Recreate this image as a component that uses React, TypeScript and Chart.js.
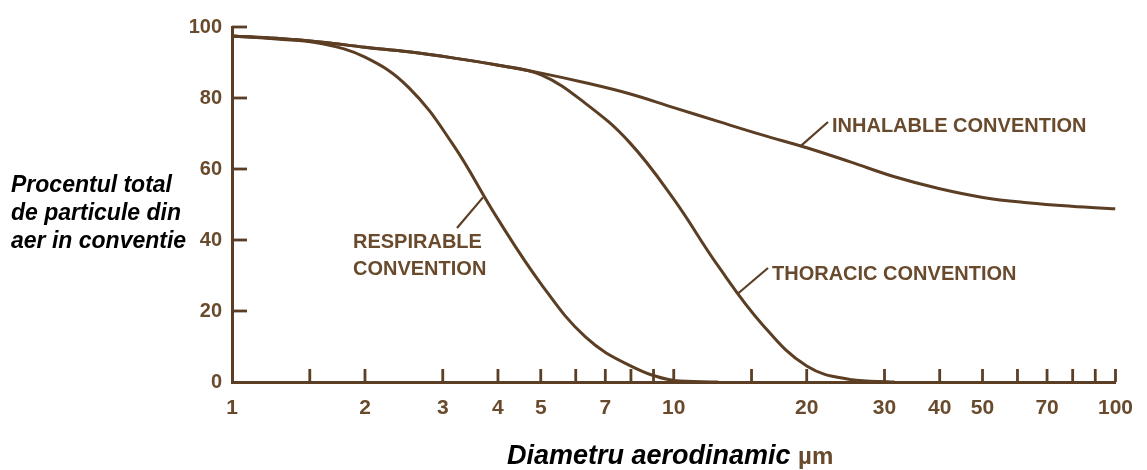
import React, { useEffect, useRef } from "react";
import { Chart, registerables } from "chart.js";

Chart.register(...registerables);

// ---- data ----
const diameters = [1, 1.26, 1.58, 2, 2.51, 3.16, 3.98, 5.01, 6.31, 7.94, 10, 12.6, 15.85, 20, 25.1, 31.6, 39.8, 50.1, 63.1, 79.4, 100];
const inhalable = [97.5, 96.8, 95.8, 94.3, 93, 91.3, 89.3, 87, 84.3, 81.2, 77.3, 73.4, 69.6, 66, 62, 57.8, 54.5, 52, 50.5, 49.5, 48.8];
const thoracic = [97.5, 96.8, 95.8, 94.3, 93, 91.3, 89.3, 86.5, 78.5, 67.5, 51.5, 32.7, 16.3, 4.5, 0.7, 0, null, null, null, null, null];
const respirable = [97.5, 96.6, 95.4, 91.5, 83, 67, 46.3, 27.6, 12.7, 4.7, 0.4, 0, null, null, null, null, null, null, null, null, null];

const xLabelValues = [1, 2, 3, 4, 5, 7, 10, 20, 30, 40, 50, 70, 100];
const xTickMarks = [1.5, 2, 3, 4, 5, 6, 7, 8, 9, 10, 15, 20, 30, 40, 50, 60, 70, 80, 90, 100];
const yTickMarks = [20, 40, 60, 80, 100];

const seriesNames = ["INHALABLE CONVENTION", "THORACIC CONVENTION", "RESPIRABLE CONVENTION"];

// annotation labels: text lines, anchor on curve (data), leader end & text position (px)
const annotations = [
  { lines: ["INHALABLE CONVENTION"], anchor: [19.4, 66.5], leaderEnd: [828, 122], textX: 832, textY: 132 },
  { lines: ["THORACIC CONVENTION"], anchor: [14, 25], leaderEnd: [768, 268], textX: 772, textY: 280 },
  { lines: ["RESPIRABLE", "CONVENTION"], anchor: [3.7, 52], leaderEnd: [457, 228], textX: 353, textY: 248 },
];

const BROWN = "#5b3e24";
const LABEL_BROWN = "#694a2d";

const toPoints = (vals: (number | null)[]) => diameters.map((d, i) => ({ x: d, y: vals[i] }));

const decorPlugin = {
  id: "decor",
  afterDatasetsDraw(chart: any) {
    const { ctx, scales } = chart;
    const x = scales.x;
    const y = scales.y;
    ctx.save();
    ctx.strokeStyle = BROWN;
    ctx.lineWidth = 2.8;
    const base = y.getPixelForValue(0);
    for (const v of xTickMarks) {
      const px = x.getPixelForValue(v);
      ctx.beginPath();
      ctx.moveTo(px, base);
      ctx.lineTo(px, base - 13);
      ctx.stroke();
    }
    const left = x.getPixelForValue(1);
    for (const v of yTickMarks) {
      const py = y.getPixelForValue(v);
      ctx.beginPath();
      ctx.moveTo(left, py);
      ctx.lineTo(left + 15, py);
      ctx.stroke();
    }
    ctx.lineWidth = 2.2;
    ctx.fillStyle = LABEL_BROWN;
    ctx.font = 'bold 20px "Liberation Sans", Arial, sans-serif';
    ctx.textBaseline = "alphabetic";
    ctx.textAlign = "left";
    for (const a of annotations) {
      const ax = x.getPixelForValue(a.anchor[0]);
      const ay = y.getPixelForValue(a.anchor[1]);
      ctx.beginPath();
      ctx.moveTo(ax, ay);
      ctx.lineTo(a.leaderEnd[0], a.leaderEnd[1]);
      ctx.stroke();
      a.lines.forEach((t, i) => ctx.fillText(t, a.textX, a.textY + i * 27));
    }
    ctx.restore();
  },
};

export default function App() {
  const canvasRef = useRef<HTMLCanvasElement | null>(null);

  useEffect(() => {
    if (!canvasRef.current) return;
    const ds = (label: string, vals: (number | null)[]) => ({
      label,
      data: toPoints(vals),
      borderColor: BROWN,
      borderWidth: 3,
      pointRadius: 0,
      fill: false,
      tension: 0.4,
    });
    const chart = new Chart(canvasRef.current, {
      type: "line",
      data: {
        datasets: [
          ds(seriesNames[0], inhalable),
          ds(seriesNames[1], thoracic),
          ds(seriesNames[2], respirable),
        ],
      },
      options: {
        animation: false,
        responsive: false,
        devicePixelRatio: 1,
        layout: { padding: { left: 0, right: 25, top: 27, bottom: 0 } },
        plugins: { legend: { display: false }, tooltip: { enabled: false } },
        scales: {
          x: {
            type: "logarithmic",
            min: 1,
            max: 100,
            afterBuildTicks: (s: any) => {
              s.ticks = xLabelValues.map((v) => ({ value: v }));
            },
            afterFit: (s: any) => {
              s.height = 88;
            },
            grid: { display: false, drawTicks: false },
            border: { display: true, color: BROWN, width: 3 },
            ticks: {
              autoSkip: false,
              maxRotation: 0,
              padding: 14,
              color: LABEL_BROWN,
              font: { family: '"Liberation Sans", Arial, sans-serif', size: 21, weight: "bold" },
              callback: (v: any) => String(v),
            },
          },
          y: {
            min: 0,
            max: 100,
            afterFit: (s: any) => {
              s.width = 232;
            },
            grid: { display: false, drawTicks: false },
            border: { display: true, color: BROWN, width: 3 },
            ticks: {
              stepSize: 20,
              padding: 10,
              color: LABEL_BROWN,
              font: { family: '"Liberation Sans", Arial, sans-serif', size: 20, weight: "bold" },
            },
          },
        },
      },
      plugins: [decorPlugin],
    });
    return () => chart.destroy();
  }, []);

  return (
    <div style={{ position: "fixed", left: 0, top: 0, width: 1147, height: 470, background: "#fff", overflow: "hidden" }}>
      <canvas ref={canvasRef} width={1147} height={470} style={{ position: "absolute", left: 0, top: 0, width: 1147, height: 470 }} />
      <div
        style={{
          position: "absolute",
          left: 11,
          top: 170,
          font: 'italic bold 23px/28px "Liberation Sans", Arial, sans-serif',
          color: "#000",
          whiteSpace: "nowrap",
        }}
      >
        <div>Procentul total</div>
        <div>de particule din</div>
        <div>aer in conventie</div>
      </div>
      <div
        style={{
          position: "absolute",
          left: 507,
          top: 440,
          font: 'italic bold 27px/30px "Liberation Sans", Arial, sans-serif',
          color: "#000",
          whiteSpace: "nowrap",
        }}
      >
        Diametru aerodinamic{" "}
        <span style={{ fontStyle: "normal", fontSize: 24, color: LABEL_BROWN }}>µm</span>
      </div>
    </div>
  );
}
